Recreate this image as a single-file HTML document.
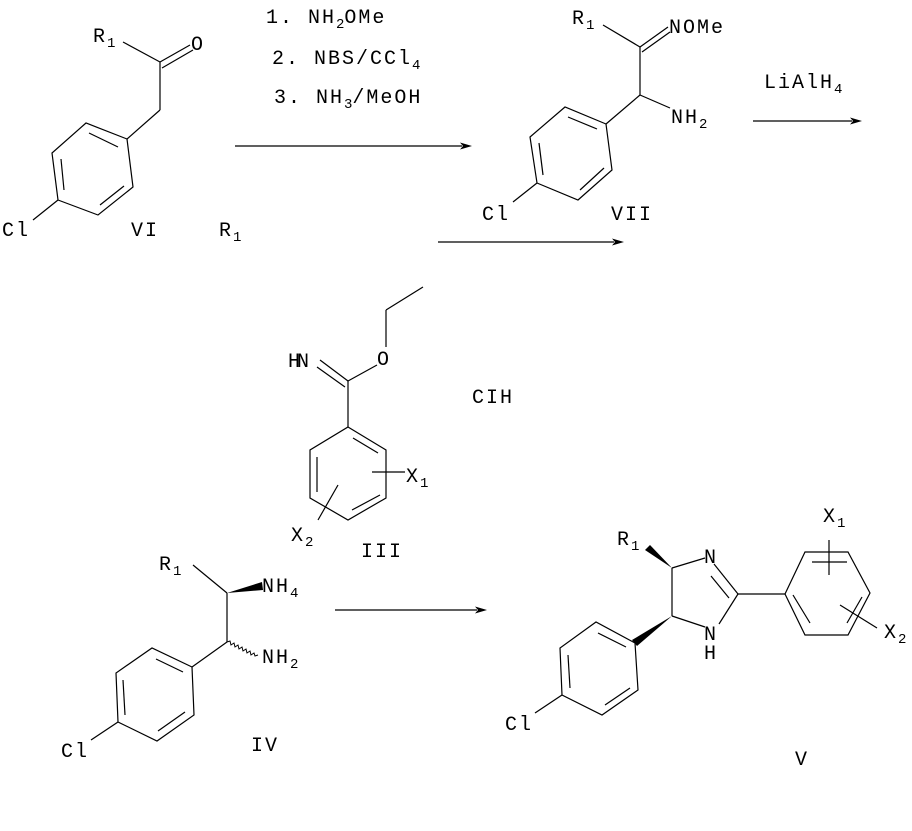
<!DOCTYPE html>
<html><head><meta charset="utf-8"><style>
html,body{margin:0;padding:0;background:#fff;}
svg{display:block;}
text{font-family:"Liberation Mono","DejaVu Sans Mono",monospace;font-size:20px;fill:#000;letter-spacing:2px;}
.s{font-size:14px;letter-spacing:0;}
line,polyline,polygon.r{stroke:#000;stroke-width:1.2;fill:none;}
</style></head><body>
<svg width="912" height="831" viewBox="0 0 912 831" xmlns="http://www.w3.org/2000/svg">
<!-- VI -->
<line x1="123" y1="42" x2="160" y2="62"/>
<line x1="160" y1="62" x2="190" y2="45"/>
<line x1="162" y1="68" x2="193" y2="50"/>
<line x1="160" y1="62" x2="160" y2="110"/>
<line x1="160" y1="110" x2="127" y2="139"/>
<polygon class="r" points="127,139 86,123 52,153 58,200 98,215 133,187"/>
<line x1="118" y1="147" x2="89" y2="133"/>
<line x1="61" y1="159" x2="64" y2="190"/>
<line x1="100" y1="205" x2="124" y2="186"/>
<line x1="58" y1="200" x2="33" y2="220"/>
<text x="93" y="42">R<tspan class="s" dy="5">1</tspan></text>
<text x="191" y="50">O</text>
<text x="2" y="236">Cl</text>
<text x="131" y="236">VI</text>
<text x="219" y="236">R<tspan class="s" dy="5">1</tspan></text>
<!-- reagents -->
<text x="266" y="23">1. NH<tspan class="s" dy="5">2</tspan><tspan dy="-5">OMe</tspan></text>
<text x="272" y="64">2. NBS/CCl<tspan class="s" dy="5">4</tspan></text>
<text x="274" y="103">3. NH<tspan class="s" dy="5">3</tspan><tspan dy="-5">/MeOH</tspan></text>
<line x1="235" y1="146" x2="462" y2="146"/>
<polygon points="472,146 460,142.5 463,146 460,149.5" fill="#000"/>
<line x1="438" y1="242" x2="614" y2="242"/>
<polygon points="624,242 612,238.5 615,242 612,245.5" fill="#000"/>
<!-- VII -->
<line x1="603" y1="25" x2="640" y2="47"/>
<line x1="640" y1="47" x2="668" y2="27"/>
<line x1="642" y1="52" x2="670" y2="32"/>
<line x1="640" y1="47" x2="640" y2="95"/>
<line x1="640" y1="95" x2="670" y2="108"/>
<line x1="640" y1="95" x2="606" y2="124"/>
<polygon class="r" points="606,124 565,107 530,137 537,183 578,200 612,170"/>
<line x1="597" y1="129" x2="568" y2="117"/>
<line x1="539" y1="143" x2="543" y2="175"/>
<line x1="580" y1="190" x2="604" y2="168"/>
<line x1="537" y1="183" x2="513" y2="202"/>
<text x="572" y="24">R<tspan class="s" dy="5">1</tspan></text>
<text x="669" y="33">NOMe</text>
<text x="671" y="123">NH<tspan class="s" dy="5">2</tspan></text>
<text x="482" y="220">Cl</text>
<text x="611" y="220">VII</text>
<text x="764" y="88">LiAlH<tspan class="s" dy="5">4</tspan></text>
<line x1="753" y1="121" x2="852" y2="121"/>
<polygon points="862,121 850,117.5 853,121 850,124.5" fill="#000"/>
<!-- III -->
<line x1="423" y1="287" x2="386" y2="310"/>
<line x1="386" y1="310" x2="386" y2="347"/>
<line x1="377" y1="365" x2="348" y2="381"/>
<line x1="348" y1="381" x2="320" y2="360"/>
<line x1="345" y1="387" x2="317" y2="367"/>
<line x1="348" y1="381" x2="348" y2="427"/>
<polygon class="r" points="348,427 386,450 386,498 348,520 310,498 310,450"/>
<line x1="353" y1="438" x2="378" y2="453"/>
<line x1="317" y1="457" x2="317" y2="492"/>
<line x1="352" y1="510" x2="380" y2="495"/>
<line x1="372" y1="472" x2="405" y2="472"/>
<line x1="338" y1="485" x2="318" y2="520"/>
<text x="377" y="365">O</text>
<text x="288" y="367" style="letter-spacing:-3px">HN</text>
<text x="406" y="482">X<tspan class="s" dy="5">1</tspan></text>
<text x="291" y="541">X<tspan class="s" dy="5">2</tspan></text>
<text x="361" y="557">III</text>
<text x="472" y="403">CIH</text>
<!-- IV -->
<line x1="193" y1="565" x2="227" y2="593"/>
<polygon points="227,593 262,582 263,590" fill="#000"/>
<line x1="227" y1="593" x2="227" y2="642"/>
<polyline points="227,642 230,641 231,645 234,643 235,647 238,645 239,649 242,647 243,651 246,649 247,653 250,651 251,655 254,653 255,656 258,655" style="stroke-width:1"/>
<line x1="227" y1="642" x2="192" y2="667"/>
<polygon class="r" points="192,667 152,648 116,673 118,722 157,741 194,715"/>
<line x1="183" y1="672" x2="156" y2="659"/>
<line x1="123" y1="680" x2="125" y2="715"/>
<line x1="158" y1="731" x2="185" y2="712"/>
<line x1="118" y1="722" x2="91" y2="740"/>
<text x="159" y="570">R<tspan class="s" dy="5">1</tspan></text>
<text x="262" y="592">NH<tspan class="s" dy="5">4</tspan></text>
<text x="262" y="663">NH<tspan class="s" dy="5">2</tspan></text>
<text x="61" y="757">Cl</text>
<text x="251" y="751">IV</text>
<line x1="335" y1="610" x2="477" y2="610"/>
<polygon points="487,610 475,606.5 478,610 475,613.5" fill="#000"/>
<!-- V -->
<polygon points="672,568 645,550 650,545" fill="#000"/>
<line x1="672" y1="568" x2="705" y2="558"/>
<line x1="714" y1="564" x2="738" y2="594"/>
<line x1="711" y1="576" x2="729" y2="598"/>
<line x1="738" y1="594" x2="719" y2="624"/>
<line x1="705" y1="627" x2="672" y2="616"/>
<line x1="672" y1="568" x2="672" y2="616"/>
<polygon points="672,616 637,646 632,640" fill="#000"/>
<polygon class="r" points="635,643 596,622 560,648 562,695 602,715 638,690"/>
<line x1="598" y1="633" x2="626" y2="647"/>
<line x1="568" y1="655" x2="570" y2="688"/>
<line x1="605" y1="705" x2="630" y2="688"/>
<line x1="562" y1="695" x2="535" y2="713"/>
<line x1="738" y1="594" x2="785" y2="594"/>
<polygon class="r" points="785,594 805,552 848,552 870,593 848,635 805,635"/>
<line x1="812" y1="562" x2="847" y2="562"/>
<line x1="793" y1="595" x2="810" y2="623"/>
<line x1="862" y1="597" x2="847" y2="623"/>
<line x1="829" y1="540" x2="829" y2="575"/>
<line x1="840" y1="605" x2="877" y2="628"/>
<text x="617" y="545">R<tspan class="s" dy="5">1</tspan></text>
<text x="704" y="563">N</text>
<text x="704" y="640">N</text>
<text x="704" y="659">H</text>
<text x="505" y="730">Cl</text>
<text x="823" y="522">X<tspan class="s" dy="5">1</tspan></text>
<text x="884" y="638">X<tspan class="s" dy="5">2</tspan></text>
<text x="795" y="765">V</text>
</svg>
</body></html>
